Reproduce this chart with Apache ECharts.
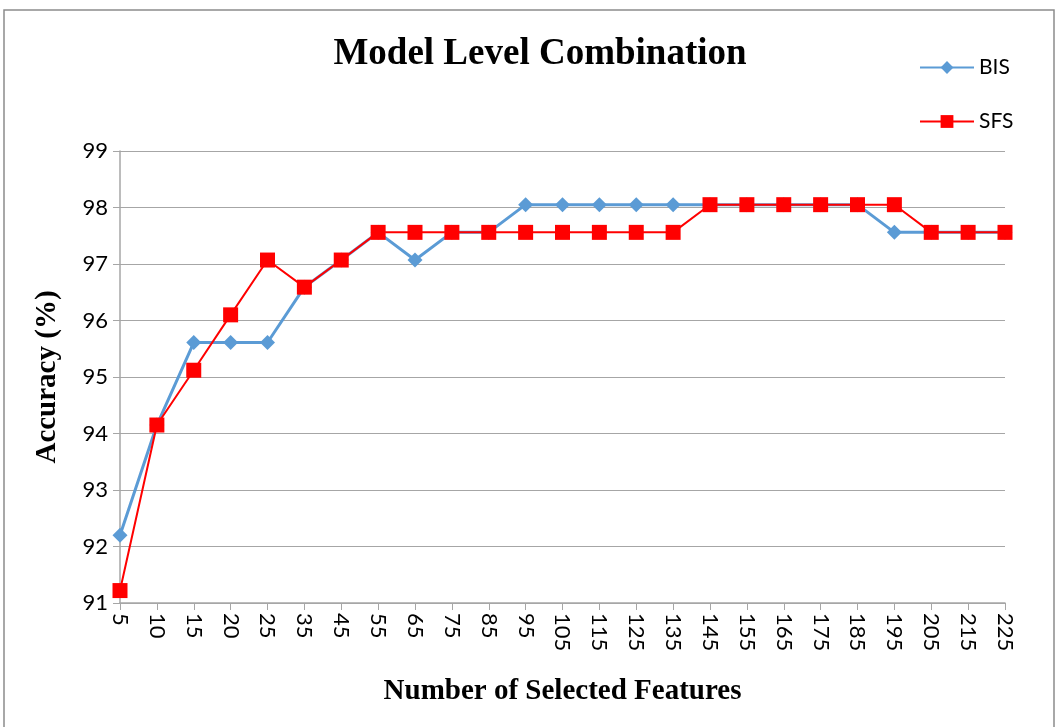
<!DOCTYPE html>
<html>
<head>
<meta charset="utf-8">
<script src="https://cdn.jsdelivr.net/npm/echarts@6/dist/echarts.min.js"></script>
<style>
html, body { margin: 0; padding: 0; background: #fff; }
#chart { width: 1056px; height: 727px; }
</style>
</head>
<body>
<div id="chart"></div>
<script>
// number of selected features
var features = ["5", "10", "15", "20", "25", "35", "45", "55", "65", "75", "85", "95", "105",
    "115", "125", "135", "145", "155", "165", "175", "185", "195", "205", "215", "225"];
var bisAcc = [92.20, 94.15, 95.61, 95.61, 95.61, 96.59, 97.07, 97.56, 97.07, 97.56, 97.56, 98.05, 98.05,
    98.05, 98.05, 98.05, 98.05, 98.05, 98.05, 98.05, 98.05, 97.56, 97.56, 97.56, 97.56];
var sfsAcc = [91.22, 94.15, 95.12, 96.10, 97.07, 96.59, 97.07, 97.56, 97.56, 97.56, 97.56, 97.56, 97.56,
    97.56, 97.56, 97.56, 98.05, 98.05, 98.05, 98.05, 98.05, 98.05, 97.56, 97.56, 97.56];

var myChart = echarts.init(document.getElementById("chart"));
var serif = "'Liberation Serif', 'Times New Roman', serif";
var sans = "Lato, 'Noto Sans', sans-serif";
var gridGray = "#a6a6a6";

myChart.setOption({
    animation: false,
    graphic: [{
        type: "rect",
        shape: { x: 4, y: 10, width: 1050, height: 720 },
        style: { fill: "none", stroke: "#8c8c8c", lineWidth: 1.5 },
        silent: true
    }],
    title: {
        text: "Model Level Combination",
        left: 535,
        top: 31,
        textAlign: "center",
        textStyle: { fontFamily: serif, fontWeight: "bold", fontSize: 37, color: "#000" }
    },
    legend: {
        orient: "vertical",
        left: 914,
        top: 52,
        itemGap: 33,
        itemWidth: 54,
        itemHeight: 16,
        textStyle: { fontFamily: sans, fontSize: 21, color: "#000" },
        data: ["BIS", "SFS"]
    },
    grid: { left: 120, right: 51, top: 151, bottom: 124 },
    xAxis: {
        type: "category",
        data: features,
        boundaryGap: false,
        name: "Number of Selected Features",
        nameLocation: "middle",
        nameGap: 74,
        nameTextStyle: { fontFamily: serif, fontWeight: "bold", fontSize: 29, color: "#000" },
        axisLine: { lineStyle: { color: gridGray, width: 1.5 } },
        axisTick: { alignWithLabel: true, length: 7, lineStyle: { color: gridGray } },
        axisLabel: { rotate: -90, fontFamily: sans, fontSize: 22, color: "#000", margin: 10, interval: 0 }
    },
    yAxis: {
        type: "value",
        min: 91,
        max: 99,
        interval: 1,
        name: "Accuracy (%)",
        nameLocation: "middle",
        nameGap: 58,
        nameTextStyle: { fontFamily: serif, fontWeight: "bold", fontSize: 29, color: "#000" },
        axisLine: { show: true, lineStyle: { color: gridGray, width: 1.5 } },
        axisTick: { show: true, length: 7, lineStyle: { color: gridGray } },
        axisLabel: { fontFamily: sans, fontSize: 22, color: "#000", margin: 12 },
        splitLine: { lineStyle: { color: gridGray, width: 1.2 } }
    },
    series: [{
        name: "BIS",
        type: "line",
        data: bisAcc,
        symbol: "diamond",
        symbolSize: 15,
        lineStyle: { color: "#5b9bd5", width: 3 },
        itemStyle: { color: "#5b9bd5" }
    }, {
        name: "SFS",
        type: "line",
        data: sfsAcc,
        symbol: "rect",
        symbolSize: 15,
        lineStyle: { color: "#ff0000", width: 2 },
        itemStyle: { color: "#ff0000" }
    }]
});
</script>
</body>
</html>
